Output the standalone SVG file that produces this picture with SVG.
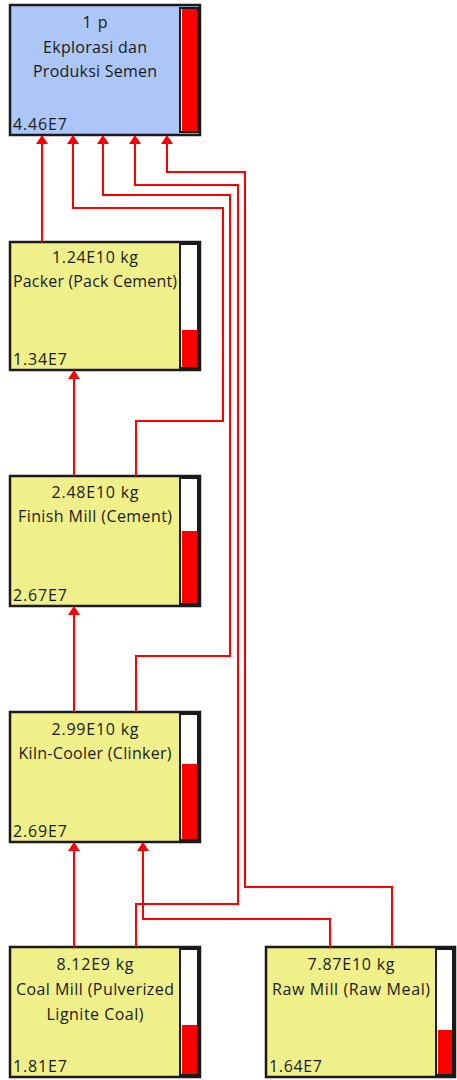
<svg xmlns="http://www.w3.org/2000/svg" width="457" height="1080" viewBox="0 0 457 1080">
<style>
.bg{fill:#ffffff}
.box{stroke:#1a1a1a;stroke-width:2.5}
.blue{fill:#abc6f7}
.yel{fill:#f0f08b}
.bar{fill:#ffffff;stroke:#1a1a1a;stroke-width:2}
.lvl{fill:#ff0000}
text{font-family:"Open Sans","Noto Sans","Liberation Sans",sans-serif;font-size:16px;fill:#1a1a1a}
.c{text-anchor:middle}
.conn{fill:none;stroke:#ff0000;stroke-width:2;marker-end:url(#ah)}
</style>
<defs>
<marker id="ah" markerUnits="userSpaceOnUse" markerWidth="9" markerHeight="12" viewBox="0 0 9 12" refX="8" refY="6" orient="auto">
<path d="M0,0 L9,6 L0,12 Z" fill="#ff0000"/>
</marker>
</defs>
<rect class="bg" x="0" y="0" width="457" height="1080"/>

<g id="node-top">
<rect class="box blue" x="10" y="5" width="190" height="130"/>
<rect class="bar" x="180" y="8" width="18" height="124"/>
<rect class="lvl" x="182" y="9" width="15" height="122"/>
<text class="c" x="95" y="28" textLength="25">1 p</text>
<text class="c" x="95" y="53" textLength="104">Ekplorasi dan</text>
<text class="c" x="95" y="77" textLength="124">Produksi Semen</text>
<text x="13" y="130" textLength="54">4.46E7</text>
</g>

<g id="node-packer">
<rect class="box yel" x="10" y="242" width="190" height="128"/>
<rect class="bar" x="180" y="244" width="18" height="124"/>
<rect class="lvl" x="182" y="330" width="15" height="37"/>
<text class="c" x="95" y="263" textLength="86">1.24E10 kg</text>
<text class="c" x="95" y="287" textLength="164">Packer (Pack Cement)</text>
<text x="13" y="365" textLength="54">1.34E7</text>
</g>

<g id="node-finish">
<rect class="box yel" x="10" y="476" width="190" height="130"/>
<rect class="bar" x="180" y="478" width="18" height="126"/>
<rect class="lvl" x="182" y="531" width="15" height="72"/>
<text class="c" x="95" y="498" textLength="87">2.48E10 kg</text>
<text class="c" x="95" y="522" textLength="154">Finish Mill (Cement)</text>
<text x="13" y="601" textLength="54">2.67E7</text>
</g>

<g id="node-kiln">
<rect class="box yel" x="10" y="712" width="190" height="130"/>
<rect class="bar" x="180" y="714" width="18" height="126"/>
<rect class="lvl" x="182" y="764" width="15" height="75"/>
<text class="c" x="95" y="735" textLength="87">2.99E10 kg</text>
<text class="c" x="95" y="759" textLength="153">Kiln-Cooler (Clinker)</text>
<text x="13" y="837" textLength="54">2.69E7</text>
</g>

<g id="node-coal">
<rect class="box yel" x="10" y="947" width="190" height="130"/>
<rect class="bar" x="180" y="949" width="18" height="126"/>
<rect class="lvl" x="182" y="1025" width="15" height="49"/>
<text class="c" x="95" y="970" textLength="77">8.12E9 kg</text>
<text class="c" x="95" y="995" textLength="158">Coal Mill (Pulverized</text>
<text class="c" x="95" y="1020" textLength="97">Lignite Coal)</text>
<text x="13" y="1072" textLength="54">1.81E7</text>
</g>

<g id="node-raw">
<rect class="box yel" x="266" y="947" width="189" height="130"/>
<rect class="bar" x="436" y="949" width="17" height="126"/>
<rect class="lvl" x="438" y="1030" width="14" height="44"/>
<text class="c" x="351" y="970" textLength="87">7.87E10 kg</text>
<text class="c" x="351" y="995" textLength="158">Raw Mill (Raw Meal)</text>
<text x="269" y="1072" textLength="53">1.64E7</text>
</g>

<g id="connectors">
<path class="conn" d="M42 242 V136"/>
<path class="conn" d="M74 476 V371"/>
<path class="conn" d="M136 476 V421 H223 V208 H73 V136"/>
<path class="conn" d="M74 712 V607"/>
<path class="conn" d="M136 712 V656 H230 V195 H103 V136"/>
<path class="conn" d="M74 947 V843"/>
<path class="conn" d="M136 947 V904 H238 V185 H135 V136"/>
<path class="conn" d="M330 947 V919 H143 V843"/>
<path class="conn" d="M392 947 V887 H245 V172 H167 V136"/>
</g>
</svg>
